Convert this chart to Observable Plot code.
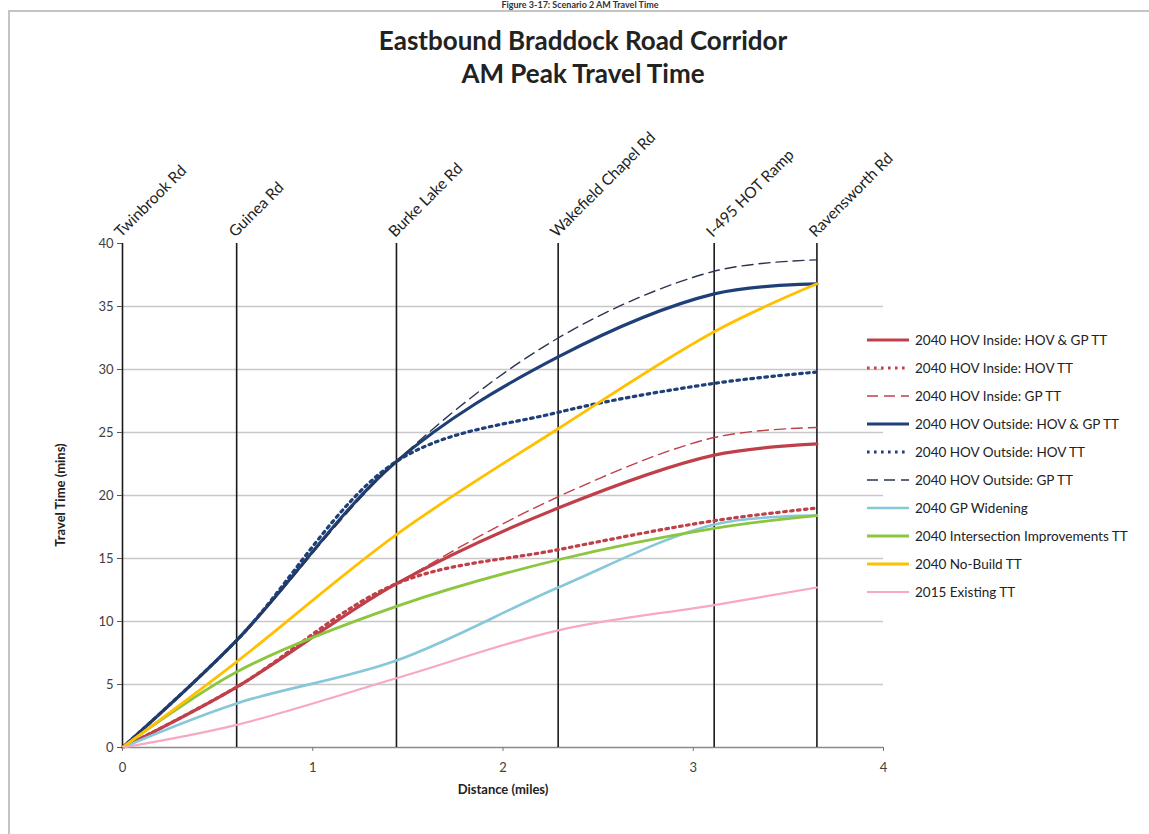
<!DOCTYPE html>
<html>
<head>
<meta charset="utf-8">
<script src="https://cdn.jsdelivr.net/npm/d3@7"></script>
<script src="https://cdn.jsdelivr.net/npm/@observablehq/plot@0.6"></script>
<style>
  html, body { margin: 0; padding: 0; background: #fff; }
  #wrap { position: relative; width: 1149px; height: 834px; overflow: hidden; font-family: Lato, "Open Sans", sans-serif; color: #222; }
  #frame { position: absolute; left: 8px; top: 10px; width: 1160px; height: 840px; border-left: 2px solid #c4c4c4; border-top: 2px solid #c4c4c4; box-sizing: border-box; }
  #fig { position: absolute; left: 0; width: 1160px; top: 0px; text-align: center; font-weight: bold; font-size: 9px; line-height: 10px; color: #333; }
  #title { position: absolute; left: 0; width: 1166px; top: 24px; text-align: center; font-weight: bold; font-size: 26px; line-height: 33px; }
  #chart { position: absolute; left: 0; top: 0; }
  .axt { position: absolute; font-weight: bold; font-size: 13px; white-space: nowrap; }
  #legend { position: absolute; left: 866px; top: 326px; }
  .li { height: 28px; display: flex; align-items: center; font-size: 13.5px; white-space: nowrap; color: #222; }
  .li svg { margin-right: 5px; }
</style>
</head>
<body>
<div id="wrap">
  <div id="fig">Figure 3-17: Scenario 2 AM Travel Time</div>
  <div id="frame"></div>
  <div id="title">Eastbound Braddock Road Corridor<br>AM Peak Travel Time</div>
  <div id="chart"></div>
  <div class="axt" id="ytitle" style="left:60px; top:495px; transform: translate(-50%,-50%) rotate(-90deg);">Travel Time (mins)</div>
  <div class="axt" id="xtitle" style="left:503px; top:789px; transform: translate(-50%,-50%);">Distance (miles)</div>
  <div id="legend"></div>
</div>
<script>
// Cross streets along the corridor
const streets = ["Twinbrook Rd", "Guinea Rd", "Burke Lake Rd", "Wakefield Chapel Rd", "I-495 HOT Ramp", "Ravensworth Rd"];
const miles = [0, 0.6, 1.44, 2.29, 3.11, 3.65];

// Travel time (mins) at each cross street
const insideAll    = [0, 4.8, 13.0, 19.0, 23.2, 24.1];
const insideHov    = [0, 4.8, 13.0, 15.7, 18.0, 19.0];
const insideGp     = [0, 4.8, 13.0, 19.9, 24.6, 25.4];
const outsideAll   = [0, 8.5, 22.7, 31.0, 36.0, 36.8];
const outsideHov   = [0, 8.5, 22.7, 26.6, 28.9, 29.8];
const outsideGp    = [0, 8.5, 22.7, 32.5, 37.8, 38.7];
const gpWidening   = [0, 3.5, 6.9, 12.7, 17.7, 18.4];
const intersection = [0, 6.0, 11.2, 14.9, 17.4, 18.4];
const noBuild      = [0, 6.8, 16.9, 25.3, 33.0, 36.8];
const existing2015 = [0, 1.8, 5.5, 9.3, 11.3, 12.7];

const seriesNames = [
  "2040 HOV Inside: HOV & GP TT",
  "2040 HOV Inside: HOV TT",
  "2040 HOV Inside: GP TT",
  "2040 HOV Outside: HOV & GP TT",
  "2040 HOV Outside: HOV TT",
  "2040 HOV Outside: GP TT",
  "2040 GP Widening",
  "2040 Intersection Improvements TT",
  "2040 No-Build TT",
  "2015 Existing TT"
];
const seriesValues = [insideAll, insideHov, insideGp, outsideAll, outsideHov, outsideGp, gpWidening, intersection, noBuild, existing2015];

const xTicks = [0, 1, 2, 3, 4];
const yTicks = [0, 5, 10, 15, 20, 25, 30, 35, 40];

// styles
const styles = [
  {stroke: "#C0404A", strokeWidth: 3.2},
  {stroke: "#C0404A", strokeWidth: 3.2, strokeDasharray: "2.6 4.4"},
  {stroke: "#C0404A", strokeWidth: 1.4, strokeDasharray: "11 6"},
  {stroke: "#1F3F78", strokeWidth: 3.2},
  {stroke: "#1F3F78", strokeWidth: 3.2, strokeDasharray: "2.6 4.4"},
  {stroke: "#2A3550", strokeWidth: 1.4, strokeDasharray: "11 6"},
  {stroke: "#86C7DA", strokeWidth: 2.6},
  {stroke: "#8CC63F", strokeWidth: 2.8},
  {stroke: "#FFC000", strokeWidth: 2.8},
  {stroke: "#F6A9BF", strokeWidth: 2.2}
];

const lineMarks = seriesValues.map((vals, k) =>
  Plot.line(miles.map((m, i) => ({x: m, y: vals[i]})), {
    x: "x", y: "y", curve: "catmull-rom", ...styles[k]
  })
);

const chart = Plot.plot({
  width: 1149,
  height: 834,
  marginLeft: 122,
  marginRight: 266,
  marginTop: 243,
  marginBottom: 87,
  style: {fontFamily: "Lato, 'Open Sans', sans-serif", fontSize: "13px", color: "#404040", background: "transparent", overflow: "visible"},
  x: {domain: [0, 4], label: null},
  y: {domain: [0, 40], label: null},
  marks: [
    Plot.ruleY(yTicks.filter(t => t > 0 && t < 40), {stroke: "#c8c8c8", strokeWidth: 1.3}),
    Plot.ruleY([0], {stroke: "#8a8a8a", strokeWidth: 1.6}),
    Plot.ruleX(miles, {y1: 0, y2: 40, stroke: "#1a1a1a", strokeWidth: 1.6}),
    ...lineMarks,
    Plot.axisY({ticks: yTicks, tickSize: 5, tickPadding: 4, tickFormat: d => d, label: null, stroke: "#555"}),
    Plot.axisX({ticks: xTicks, tickSize: 4, tickPadding: 11, tickFormat: d => d, label: null, stroke: "#777"}),
    Plot.text(streets, {x: (d, i) => miles[i], y: () => 40, text: d => d, rotate: -45, textAnchor: "start", dx: -5, dy: -9, fontSize: 15.5, fill: "#222"})
  ]
});
document.getElementById("chart").appendChild(chart);

// legend
const legend = document.getElementById("legend");
seriesNames.forEach((name, k) => {
  const s = styles[k];
  const row = document.createElement("div");
  row.className = "li";
  row.innerHTML = `<svg width="44" height="10"><line x1="1" y1="5" x2="43" y2="5" stroke="${s.stroke}" stroke-width="${s.strokeWidth}" ${s.strokeDasharray ? `stroke-dasharray="${s.strokeDasharray}"` : ""}/></svg><span>${name.replace(/&/g, "&amp;")}</span>`;
  legend.appendChild(row);
});
</script>
</body>
</html>
